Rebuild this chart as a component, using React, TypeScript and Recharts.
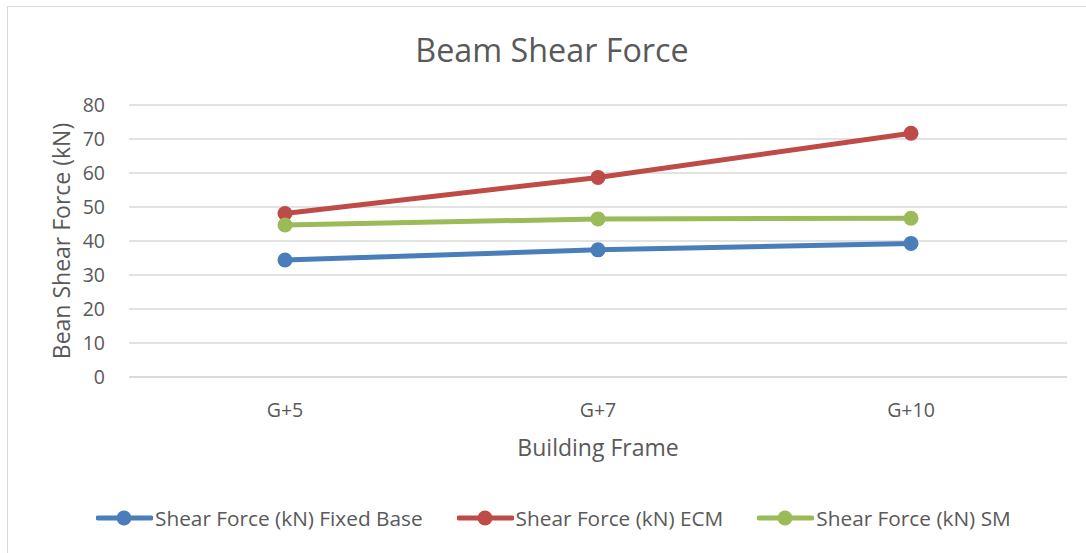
import { LineChart, Line, XAxis, YAxis, CartesianGrid, Label } from "recharts";

const categories = ["G+5", "G+7", "G+10"];
const fixedBase = [34.4, 37.4, 39.3];
const ecm = [48.1, 58.7, 71.7];
const sm = [44.7, 46.5, 46.7];
const yTicks = [0, 10, 20, 30, 40, 50, 60, 70, 80];

const series = [
  { key: "fixed", name: "Shear Force (kN) Fixed Base", color: "#4A7EBB" },
  { key: "ecm", name: "Shear Force (kN) ECM", color: "#BE4B48" },
  { key: "sm", name: "Shear Force (kN) SM", color: "#9BBB59" },
];

const data = categories.map((frame, i) => ({
  frame,
  fixed: fixedBase[i],
  ecm: ecm[i],
  sm: sm[i],
}));

const FONT = "'Open Sans', sans-serif";
const TEXT = "#595959";

function ChartLegend() {
  return (
    <div
      style={{
        position: "absolute",
        top: 505,
        left: 96,
        display: "flex",
        gap: 34,
        fontFamily: FONT,
        fontSize: 20.8,
        lineHeight: "26px",
        color: TEXT,
        whiteSpace: "nowrap",
      }}
    >
      {series.map((s) => (
        <div key={s.key} style={{ display: "flex", alignItems: "center" }}>
          <svg width={57} height={16} style={{ marginRight: 2 }}>
            <line x1={2} y1={8} x2={55} y2={8} stroke={s.color} strokeWidth={5} strokeLinecap="round" />
            <circle cx={28} cy={8} r={7.5} fill={s.color} />
          </svg>
          <span>{s.name}</span>
        </div>
      ))}
    </div>
  );
}

export default function App() {
  return (
    <div style={{ position: "absolute", left: 0, top: 0, width: 1086, height: 553, background: "#fff", overflow: "hidden" }}>
      <div
        style={{
          position: "absolute",
          left: 7,
          top: 6,
          right: -2,
          bottom: -2,
          border: "1px solid #d9d9d9",
        }}
      />
      <div
        style={{
          position: "absolute",
          left: 0,
          width: 1104,
          top: 27,
          textAlign: "center",
          fontFamily: FONT,
          fontSize: 32.3,
          color: TEXT,
        }}
      >
        Beam Shear Force
      </div>
      <LineChart
        width={1086}
        height={553}
        data={data}
        margin={{ top: 105, right: 19, bottom: 86, left: 49 }}
        style={{ position: "absolute", left: 0, top: 0 }}
      >
        <CartesianGrid vertical={false} stroke="#d9d9d9" strokeWidth={1.5} />
        <XAxis
          dataKey="frame"
          padding={{ left: 156, right: 156 }}
          axisLine={{ stroke: "#d9d9d9", strokeWidth: 1.5 }}
          tickLine={false}
          tickSize={6}
          tickMargin={20}
          height={90}
          tick={{ fill: TEXT, fontSize: 19.5, fontFamily: FONT }}
        >
          <Label
            content={({ viewBox }: any) => (
              <text
                x={viewBox.x + viewBox.width / 2}
                y={viewBox.y + 79}
                textAnchor="middle"
                fill={TEXT}
                fontSize={23}
                fontFamily={FONT}
              >
                Building Frame
              </text>
            )}
          />
        </XAxis>
        <YAxis
          domain={[0, 80]}
          ticks={yTicks}
          width={80}
          axisLine={false}
          tickLine={false}
          tickSize={6}
          tickMargin={18}
          tick={{ fill: TEXT, fontSize: 19.5, fontFamily: FONT }}
        >
          <Label
            content={({ viewBox }: any) => (
              <text
                x={0}
                y={0}
                transform={`translate(${viewBox.x + 12}, ${viewBox.y + viewBox.height / 2}) rotate(-90)`}
                textAnchor="middle"
                dominantBaseline="central"
                fill={TEXT}
                fontSize={23}
                fontFamily={FONT}
              >
                Bean Shear Force (kN)
              </text>
            )}
          />
        </YAxis>
        {series.map((s) => (
          <Line
            key={s.key}
            type="linear"
            dataKey={s.key}
            name={s.name}
            stroke={s.color}
            strokeWidth={5}
            dot={{ r: 7.5, fill: s.color, stroke: s.color, strokeWidth: 0 }}
            activeDot={false}
            isAnimationActive={false}
          />
        ))}
      </LineChart>
      <ChartLegend />
    </div>
  );
}
